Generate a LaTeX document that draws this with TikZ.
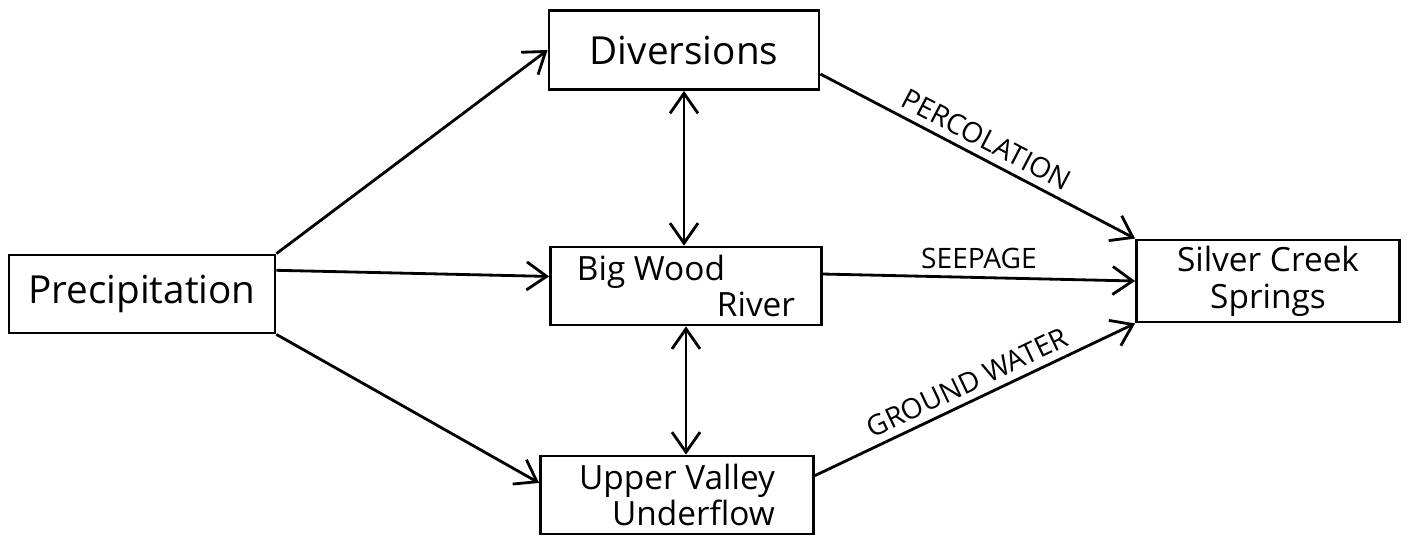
\documentclass[tikz,border=0pt]{standalone}
\usepackage{fontspec}
\setmainfont{Open Sans}
\usetikzlibrary{arrows.meta}
\begin{document}
\begin{tikzpicture}[x=0.1mm,y=-0.1mm,
  box/.style={rectangle, draw=black, thick, inner sep=0pt, font=\fontsize{11}{13}\selectfont},
  twoline/.style={font=\fontsize{9.5}{10.5}\selectfont},
  flow/.style={thick, -{Straight Barb[length=2mm,width=2.8mm]}},
  both/.style={thick, {Straight Barb[length=2mm,width=2.8mm]}-{Straight Barb[length=2mm,width=2.8mm]}},
  lab/.style={font=\fontsize{8}{10}\selectfont, inner sep=2pt}]
\useasboundingbox (0,0) rectangle (1410,536);
% boxes
\node [box, minimum width=26.6mm, minimum height=7.8mm] (prec) at (142,294) {Precipitation};
\node [box, minimum width=27mm, minimum height=7.9mm] (div) at (684,50) {Diversions};
\node [box, twoline, minimum width=27.1mm, minimum height=7.8mm, align=left] (bwr) at (686,286) {Big Wood\\\hspace*{14mm}River};
\node [box, twoline, minimum width=27.3mm, minimum height=7.8mm, align=right] (uvu) at (677,495) {Upper Valley\\Underflow};
\node [box, twoline, minimum width=26.3mm, minimum height=8.2mm, align=center] (scs) at (1268,281) {Silver Creek\\Springs};
% flows from precipitation
\draw [flow] (prec.north east) -- (div.west);
\draw [flow] (prec.10) -- (bwr.176);
\draw [flow] (prec.south east) -- (uvu.175);
% exchanges with the river
\draw [both] (div.south) -- (div.south |- bwr.north);
\draw [both] (bwr.south) -- (bwr.south |- uvu.north);
% flows to the springs
\draw [flow] (div.-10) -- node [lab, midway, above, sloped] {PERCOLATION} (scs.north west);
\draw [flow] (bwr.5) -- node [lab, midway, above] {SEEPAGE} (scs.west);
\draw [flow] (uvu.8) -- node [lab, midway, above, sloped] {GROUND WATER} (scs.south west);
\end{tikzpicture}
\end{document}
